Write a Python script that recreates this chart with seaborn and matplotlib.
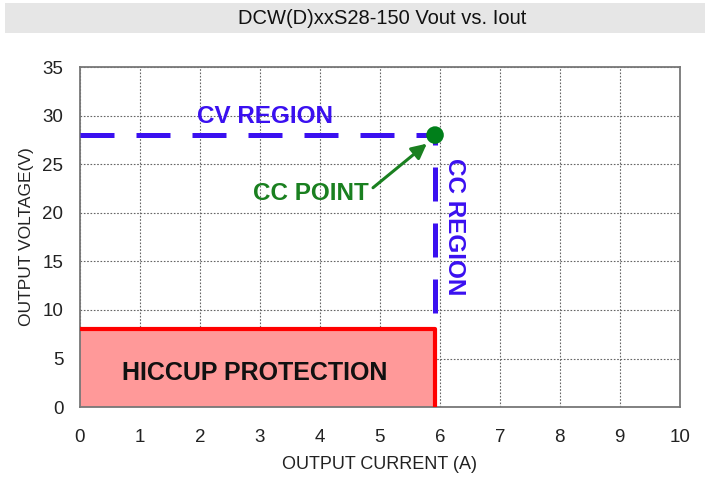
import matplotlib
matplotlib.use("Agg")
import matplotlib.pyplot as plt
import seaborn as sns
import pandas as pd
from matplotlib.patches import Rectangle

# data
cv_current = [0, 5.92]
cv_voltage = [28, 28]
cc_current = [5.92, 5.92]
cc_voltage = [9.7, 28]
hiccup_current = [0, 5.92, 5.92]
hiccup_voltage = [8, 8, 0]
cc_point_current = [5.92]
cc_point_voltage = [28]
x_ticks = list(range(0, 11))
y_ticks = list(range(0, 36, 5))

sns.set_style("white")
plt.rcParams['font.family'] = ['Liberation Sans', 'DejaVu Sans']

blue = '#3a10f0'
green = '#1a8020'

fig = plt.figure(figsize=(7.11, 4.79), dpi=100)
ax = fig.add_axes([0.1125, 0.150, 0.8435, 0.710])

# title box
fig.patches.append(Rectangle((5 / 711, 1 - 33 / 479), 700 / 711, 30 / 479,
                             transform=fig.transFigure, facecolor='#e6e6e6',
                             edgecolor='none', zorder=0))
fig.text(382 / 711, 1 - 18 / 479, 'DCW(D)xxS28-150 Vout vs. Iout', ha='center',
         va='center', fontsize=14.5, color='#111111')

hic = pd.DataFrame({'I': hiccup_current, 'V': hiccup_voltage})
ax.fill_between(hic['I'][:2], hic['V'][:2], 0, color='#ff9999', zorder=1, linewidth=0)
sns.lineplot(data=hic, x='I', y='V', sort=False, estimator=None, color='#ff0000',
             linewidth=3.0, ax=ax, zorder=3)

cv = pd.DataFrame({'I': cv_current, 'V': cv_voltage})
sns.lineplot(data=cv, x='I', y='V', color=blue, linewidth=3.6, ax=ax, zorder=3)
ax.lines[-1].set_dashes((6.8, 4.4))
ax.lines[-1].set_dash_capstyle('butt')

cc = pd.DataFrame({'I': cc_current, 'V': cc_voltage})
sns.lineplot(data=cc, x='I', y='V', sort=False, color=blue, linewidth=3.6, ax=ax,
             zorder=3, estimator=None)
ax.lines[-1].set_dashes((6.8, 4.4))
ax.lines[-1].set_dash_capstyle('butt')

sns.scatterplot(x=cc_point_current, y=cc_point_voltage, color='#007f1a', s=160,
                edgecolor='none', ax=ax, zorder=5)

ax.annotate('', xy=(5.82, 27.3), xytext=(4.85, 22.4),
            arrowprops=dict(arrowstyle='-|>,head_length=0.9,head_width=0.45',
                            color=green, lw=2.2), zorder=4)

ax.text(3.85, 22.0, 'CC POINT', color=green, fontsize=17.5, fontweight='bold',
        ha='center', va='center')
ax.text(3.08, 29.9, 'CV REGION', color=blue, fontsize=17.5, fontweight='bold',
        ha='center', va='center')
ax.text(6.24, 18.6, 'CC REGION', color=blue, fontsize=17.5, fontweight='bold',
        ha='center', va='center', rotation=-90)
ax.text(2.92, 3.5, 'HICCUP PROTECTION', color='#111111', fontsize=18,
        fontweight='bold', ha='center', va='center')

ax.set_xlim(0, 10)
ax.set_ylim(0, 35)
ax.set_xticks(x_ticks)
ax.set_yticks(y_ticks)
ax.tick_params(axis='both', labelsize=13.5, length=0, colors='#222222')
ax.tick_params(axis='x', pad=16)
ax.tick_params(axis='y', pad=12)
ax.grid(True, linestyle=(0, (1.5, 1.5)), color='#666666', linewidth=0.8)
for s in ax.spines.values():
    s.set_color('#777777')
    s.set_linewidth(1.3)
    s.set_visible(True)
ax.set_xlabel('OUTPUT CURRENT (A)', fontsize=13, color='#222222', labelpad=7)
ax.set_ylabel('OUTPUT VOLTAGE(V)', fontsize=12.5, color='#222222', labelpad=6)

fig.savefig('out.png', dpi=100)
